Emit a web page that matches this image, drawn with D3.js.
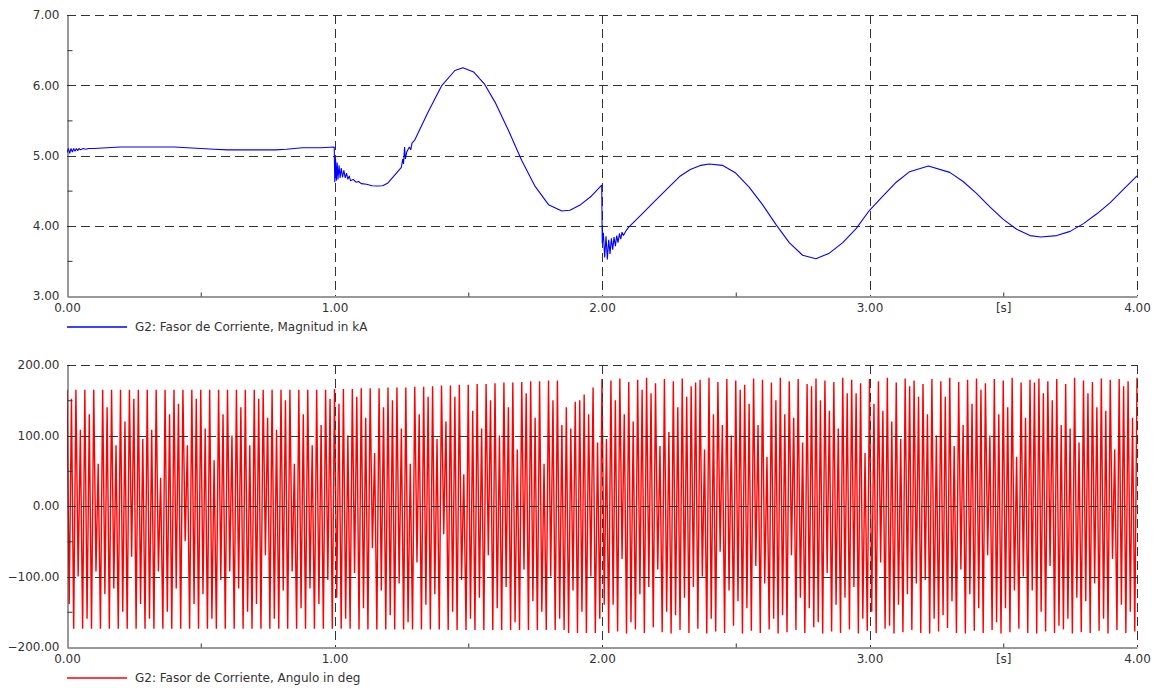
<!DOCTYPE html>
<html>
<head>
<meta charset="utf-8">
<script src="https://cdn.jsdelivr.net/npm/d3@7"></script>
<style>
  html, body { margin: 0; padding: 0; background: #fff; }
  svg { display: block; }
  text { font-family: "DejaVu Sans", sans-serif; font-size: 12px; fill: #333; }
</style>
</head>
<body>
<svg id="chart" width="1158" height="688"></svg>
<script>
// ---------------- DATA ----------------
// Top chart: G2 current phasor magnitude (kA)
const magTimes = [
  0.000, 0.005, 0.010, 0.015, 0.020, 0.025, 0.030, 0.035, 0.040, 0.045, 0.050, 0.060, 0.070, 0.080,
  0.100, 0.150, 0.200, 0.300, 0.400, 0.450, 0.500, 0.550, 0.600, 0.700, 0.780, 0.820, 0.880, 0.950, 0.999,
  1.001, 1.004, 1.007, 1.010, 1.013, 1.017, 1.021, 1.025, 1.030, 1.035, 1.040, 1.045, 1.050, 1.055, 1.060,
  1.070, 1.080, 1.090, 1.100, 1.120, 1.140, 1.160, 1.180, 1.200, 1.250, 1.255, 1.258, 1.262, 1.265, 1.270,
  1.280, 1.285, 1.290, 1.300, 1.350, 1.400, 1.450, 1.480, 1.520, 1.560, 1.600, 1.650, 1.700, 1.750, 1.800,
  1.850, 1.880, 1.920, 1.960, 1.999,
  2.001, 2.005, 2.010, 2.015, 2.020, 2.025, 2.030, 2.035, 2.040, 2.045, 2.050, 2.055, 2.060, 2.065, 2.070,
  2.075, 2.080, 2.090, 2.100, 2.150, 2.200, 2.250, 2.290, 2.330, 2.370, 2.400, 2.450, 2.500, 2.550, 2.600,
  2.650, 2.700, 2.750, 2.800, 2.850, 2.900, 2.950, 3.000, 3.050, 3.100, 3.150, 3.220, 3.300, 3.350, 3.400,
  3.450, 3.500, 3.550, 3.600, 3.640, 3.700, 3.750, 3.800, 3.850, 3.900, 3.950, 4.000
];
const magValues = [
  5.04, 5.10, 5.03, 5.10, 5.05, 5.10, 5.06, 5.10, 5.07, 5.10, 5.08, 5.10, 5.09, 5.10,
  5.10, 5.11, 5.12, 5.12, 5.12, 5.11, 5.10, 5.09, 5.08, 5.08, 5.08, 5.09, 5.11, 5.11, 5.12,
  4.62, 4.95, 4.64, 4.90, 4.66, 4.86, 4.68, 4.82, 4.69, 4.79, 4.68, 4.75, 4.66, 4.71, 4.64,
  4.66, 4.62, 4.63, 4.60, 4.59, 4.57, 4.565, 4.57, 4.61, 4.83, 4.95, 4.88, 5.12, 4.95, 5.05,
  5.12, 5.08, 5.18, 5.22, 5.62, 5.99, 6.21, 6.25, 6.19, 6.02, 5.76, 5.36, 4.93, 4.56, 4.30,
  4.21, 4.22, 4.30, 4.42, 4.58,
  3.75, 3.90, 3.55, 3.85, 3.52, 3.80, 3.60, 3.82, 3.66, 3.84, 3.71, 3.86, 3.76, 3.89, 3.81,
  3.91, 3.86, 3.93, 3.98, 4.17, 4.36, 4.55, 4.70, 4.80, 4.86, 4.88, 4.86, 4.75, 4.55, 4.30,
  4.02, 3.76, 3.58, 3.53, 3.61, 3.76, 3.96, 4.22, 4.42, 4.62, 4.77, 4.85, 4.76, 4.63, 4.46,
  4.27, 4.09, 3.95, 3.86, 3.84, 3.86, 3.92, 4.03, 4.17, 4.33, 4.52, 4.71
];

// Bottom chart: G2 current phasor angle (deg), sampled every 1/120 s,
// alternating "high" sample (at k/60 s) and "low" sample (at k/60 + 1/120 s)
const angleStep = 1 / 120;
const angleHighs = [
  // 0 - 1 s
  165,152,165,108,165,130,165,60,165,140,165,86,165,120,165,152,165,95,165,108,
  165,40,165,130,165,145,165,86,165,152,165,110,165,65,165,130,165,100,165,140,
  165,86,165,152,165,125,165,108,165,150,165,60,165,130,165,86,165,115,165,152,
  // 1 - 1.87 s
  166,145,166,100,166,155,167,125,167,75,167,140,
  168,150,168,110,168,60,169,130,169,155,170,95,
  171,120,171,155,172,45,172,135,173,110,173,150,
  174,100,175,140,175,80,176,160,177,125,177,60,178,150,178,115,
  // 1.87 - 2 s
  140,110,148,150,158,130,168,90,
  // 2 - 4 s
  180,95,178,150,181,130,176,120,179,165,182,160,
  174,85,180,105,177,140,181,155,170,175,179,80,
  182,130,176,115,180,100,178,165,172,145,181,115,
  179,70,175,150,182,130,177,125,180,90,173,170,
  181,150,178,135,176,110,182,160,179,160,174,75,
  180,145,177,135,182,120,175,95,181,170,178,155,
  173,130,180,100,177,155,182,85,176,115,179,145,
  181,165,174,100,180,130,178,140,182,70,175,125,
  179,175,181,160,177,150,180,115,173,110,182,90,
  178,160,176,140,181,135,179,80,180,170,177,125,182
];
const angleLows = [
  // 0 - 1 s
  -139,-174,-100,-174,-160,-174,-93,-174,-125,-174,-117,-174,-150,-174,-72,-174,-139,-174,-160,-174,
  -93,-174,-150,-174,-117,-174,-50,-174,-139,-174,-125,-174,-160,-174,-105,-174,-93,-174,-117,-174,
  -150,-174,-139,-174,-70,-174,-160,-174,-120,-174,-93,-174,-145,-174,-117,-174,-139,-174,-105,-174,
  // 1 - 1.87 s
  -130,-174,-160,-174,-95,-175,-145,-175,-60,-175,-120,-175,
  -155,-175,-110,-175,-165,-175,-80,-175,-140,-175,-125,-175,
  -40,-176,-150,-176,-105,-176,-160,-176,-130,-176,-70,-176,
  -145,-176,-115,-176,-165,-176,-90,-176,-135,-176,-150,-176,-100,-176,-160,-176,
  // 1.87 - 2 s
  -180,-120,-180,-150,-180,-100,-180,-160,
  // 2 - 4 s
  -140,-180,-140,-178,-75,-181,-165,-175,-125,-180,-115,-172,
  -90,-179,-150,-181,-155,-176,-130,-180,-115,-174,-100,-181,
  -160,-178,-65,-180,-120,-170,-135,-181,-145,-177,-85,-180,
  -110,-175,-160,-181,-155,-179,-70,-176,-130,-180,-145,-172,
  -165,-181,-95,-178,-140,-180,-130,-175,-115,-181,-160,-177,
  -150,-180,-80,-174,-170,-181,-140,-179,-125,-176,-110,-180,
  -105,-181,-160,-178,-155,-173,-135,-180,-90,-181,-125,-177,
  -145,-180,-70,-176,-165,-181,-145,-179,-120,-174,-100,-180,
  -120,-181,-150,-178,-85,-180,-170,-175,-160,-181,-130,-179,
  -135,-180,-110,-177,-160,-181,-75,-176,-140,-180,-150,-178
];

// Axis ticks / labels
const xMajorTicks = [0, 1, 2, 3, 4];
const xMinorTicks = [0.5, 1.5, 2.5, 3.5];
const xUnitLabel = "[s]";
const xUnitAt = 3.5;
const magMajorTicks = [3, 4, 5, 6, 7];
const magMinorTicks = [3.5, 4.5, 5.5, 6.5];
const angMajorTicks = [-200, -100, 0, 100, 200];
const angMinorTicks = [-150, -50, 50, 150];
const magLegend = "G2: Fasor de Corriente, Magnitud in kA";
const angLegend = "G2: Fasor de Corriente, Angulo in deg";

// ---------------- DRAWING ----------------
const svg = d3.select("#chart");
const left = 67, right = 1137;
const fmt = d3.format(".2f");

const x = d3.scaleLinear().domain([0, 4]).range([left, right]);

function panel(opts) {
  const { top, bottom, domain, major, minor, color, data, legend, legendY, gridOnTop, id, width } = opts;
  const y = d3.scaleLinear().domain(domain).range([bottom, top]);
  const g = svg.append("g");

  g.append("clipPath").attr("id", id).append("rect")
    .attr("x", left).attr("y", top - 1).attr("width", right - left + 1).attr("height", bottom - top + 2);

  const grid = () => {
    const gg = g.append("g").attr("stroke", "#333").attr("stroke-width", 1)
      .attr("stroke-dasharray", "9,5").attr("fill", "none");
    gg.selectAll("line.h").data(major.filter(v => v !== domain[0])).join("line")
      .attr("x1", left).attr("x2", right)
      .attr("y1", d => Math.round(y(d)) + 0.5).attr("y2", d => Math.round(y(d)) + 0.5);
    gg.selectAll("line.v").data(xMajorTicks.filter(v => v !== 0)).join("line")
      .attr("x1", d => Math.round(x(d)) + 0.5).attr("x2", d => Math.round(x(d)) + 0.5)
      .attr("y1", top).attr("y2", bottom);
  };

  const drawData = () => {
    g.append("path")
      .datum(data)
      .attr("clip-path", `url(#${id})`)
      .attr("fill", "none")
      .attr("stroke", color)
      .attr("stroke-width", width)
      .attr("stroke-linejoin", "bevel")
      .attr("d", d3.line().x(d => x(d.t)).y(d => y(d.v)));
  };

  if (gridOnTop) { drawData(); grid(); } else { grid(); drawData(); }

  // Left axis: labels at major ticks
  const yAxis = d3.axisLeft(y).tickValues(major).tickFormat(fmt).tickSize(0).tickPadding(8);
  const ya = g.append("g").attr("transform", `translate(${left + 0.5},0)`).call(yAxis);
  ya.select(".domain").attr("stroke", "#333");
  ya.selectAll("text").style("font-family", "DejaVu Sans").style("font-size", "12px").attr("fill", "#333");

  // Minor y ticks (inward)
  const yMinor = d3.axisLeft(y).tickValues(minor).tickFormat("").tickSizeInner(-5).tickSizeOuter(0);
  const ym = g.append("g").attr("transform", `translate(${left + 0.5},0)`).call(yMinor);
  ym.select(".domain").remove();
  ym.selectAll("line").attr("stroke", "#333");

  // Bottom axis
  const xAxis = d3.axisBottom(x).tickValues(xMajorTicks.concat([xUnitAt]))
    .tickFormat(d => d === xUnitAt ? xUnitLabel : fmt(d)).tickSize(0).tickPadding(7);
  const xa = g.append("g").attr("transform", `translate(0,${bottom + 0.5})`).call(xAxis);
  xa.select(".domain").attr("stroke", "#333");
  xa.selectAll("text").style("font-family", "DejaVu Sans").style("font-size", "12px").attr("fill", "#333");

  const xMinor = d3.axisBottom(x).tickValues(xMinorTicks).tickFormat("").tickSizeInner(-4).tickSizeOuter(0);
  const xm = g.append("g").attr("transform", `translate(0,${bottom + 0.5})`).call(xMinor);
  xm.select(".domain").remove();
  xm.selectAll("line").attr("stroke", "#333");

  // Legend
  g.append("line").attr("x1", left).attr("x2", left + 60)
    .attr("y1", legendY).attr("y2", legendY)
    .attr("stroke", color).attr("stroke-width", 1.5);
  g.append("text").attr("x", left + 68).attr("y", legendY).attr("dy", "0.35em")
    .text(legend);
}

const magData = magTimes.map((t, i) => ({ t: t, v: magValues[i] }));
const angData = [];
angleHighs.forEach((v, k) => {
  angData.push({ t: 2 * k * angleStep, v: v });
  if (k < angleLows.length) angData.push({ t: (2 * k + 1) * angleStep, v: angleLows[k] });
});

panel({ id: "clipTop", top: 15, bottom: 296, domain: [3, 7], major: magMajorTicks, minor: magMinorTicks,
        color: "#0000ff", data: magData, legend: magLegend, legendY: 327, gridOnTop: false, width: 1.1 });
panel({ id: "clipBot", top: 365, bottom: 647, domain: [-200, 200], major: angMajorTicks, minor: angMinorTicks,
        color: "#ff0000", data: angData, legend: angLegend, legendY: 678, gridOnTop: true, width: 1.4 });
</script>
</body>
</html>
